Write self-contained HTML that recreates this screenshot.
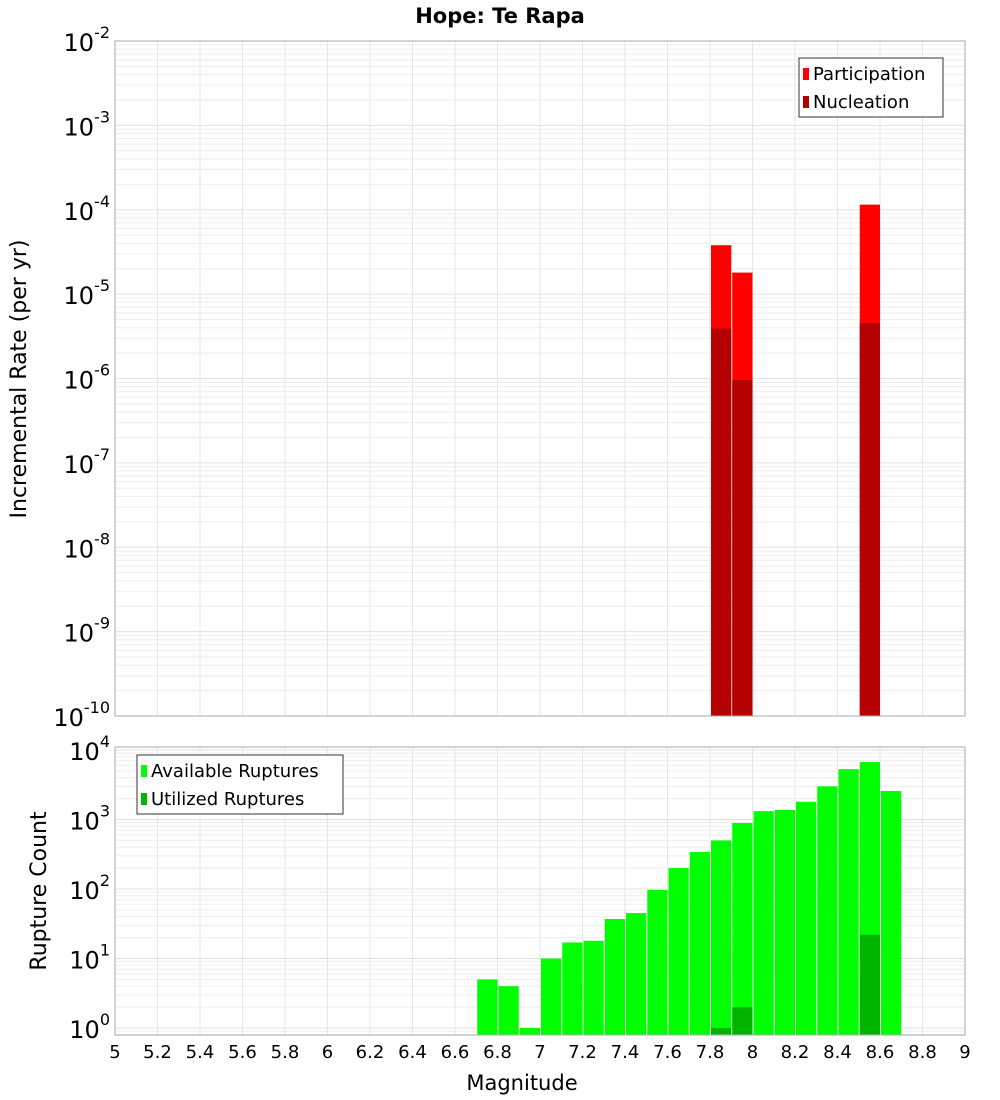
<!DOCTYPE html>
<html><head><meta charset="utf-8"><style>
body{margin:0;background:#fff;}
svg{display:block;font-family:"DejaVu Sans","Liberation Sans",sans-serif;}
</style></head><body>
<svg id="c" width="1000" height="1100" xmlns="http://www.w3.org/2000/svg"></svg>
<script>
const topMags=[7.8,7.9,8.5];
const partRates=[3.8e-5,1.8e-5,1.15e-4];
const nuclRates=[3.9e-6,9.6e-7,4.5e-6];
const botMags=[6.7,6.8,6.9,7.0,7.1,7.2,7.3,7.4,7.5,7.6,7.7,7.8,7.9,8.0,8.1,8.2,8.3,8.4,8.5,8.6];
const availCounts=[5,4,1,10,17,18,37,45,97,200,340,500,890,1320,1370,1800,3000,5300,6700,2570];
const utilMags=[7.8,7.9,8.5];
const utilCounts=[1,2,22];
const xTicks=[5,5.2,5.4,5.6,5.8,6,6.2,6.4,6.6,6.8,7,7.2,7.4,7.6,7.8,8,8.2,8.4,8.6,8.8,9];
const xTickLabels=["5","5.2","5.4","5.6","5.8","6","6.2","6.4","6.6","6.8","7","7.2","7.4","7.6","7.8","8","8.2","8.4","8.6","8.8","9"];
const topExps=[-2,-3,-4,-5,-6,-7,-8,-9,-10];
const botExps=[0,1,2,3,4];

const NS="http://www.w3.org/2000/svg";
const svg=document.getElementById('c');
function mk(tag,attrs,parent){const e=document.createElementNS(NS,tag);for(const k in attrs)e.setAttribute(k,attrs[k]);(parent||svg).appendChild(e);return e;}
const X0=115,X1=965;
const xs=m=>X0+(m-5)/4*(X1-X0);
const T0=41,T1=716;
const yTop=v=>T0+(-2-Math.log10(v))/8*(T1-T0);
const B0=747,B1=1035,BPD=69.5;
const yBot=v=>1028-Math.log10(v)*BPD;

// title
let t=mk('text',{x:500,y:23,'text-anchor':'middle','font-size':21,'font-weight':'bold'});t.textContent='Hope: Te Rapa';



function grid(y0,y1,yf,dmin,dmax){
  const g=mk('g',{});
  for(let d=dmin;d<=dmax;d++)for(let k=1;k<10;k++){const y=yf(k*Math.pow(10,d));if(y<y0||y>y1)continue;
    const l=mk('line',{x1:X0,x2:X1,y1:y,y2:y,stroke:k==1?'#e0e0e0':'#eeeeee','stroke-width':1},g);
    
    }
  xTicks.forEach(m=>{const l=mk('line',{x1:xs(m),x2:xs(m),y1:y0,y2:y1,stroke:'#e6e6e6'},g);
    
    });
}
grid(T0,T1,yTop,-10,-3);
grid(B0,B1,yBot,-1,4);

// top bars
topMags.forEach((m,i)=>{
  const x=xs(m)+1,w=xs(m+0.1)-xs(m)-1;
  let r=mk('rect',{x:x,y:yTop(partRates[i]),width:w,height:T1-yTop(partRates[i]),fill:'#ff0000'});
  
  
  r=mk('rect',{x:x,y:yTop(nuclRates[i]),width:w,height:T1-yTop(nuclRates[i]),fill:'#b40000'});
  
  
});
// bottom bars
botMags.forEach((m,i)=>{
  const x=xs(m)+1,w=xs(m+0.1)-xs(m)-1,y=yBot(availCounts[i]);
  const r=mk('rect',{x:x,y:y,width:w,height:B1-y,fill:'#00ff00'});
  
  
});
utilMags.forEach((m,i)=>{
  const x=xs(m)+1,w=xs(m+0.1)-xs(m)-1,y=yBot(utilCounts[i]);
  const r=mk('rect',{x:x,y:y,width:w,height:B1-y,fill:'#00b400'});
  
  
});
// frames
let f=mk('rect',{x:X0,y:T0,width:X1-X0,height:T1-T0,fill:'none',stroke:'#aaaaaa'});

f=mk('rect',{x:X0,y:B0,width:X1-X0,height:B1-B0,fill:'none',stroke:'#aaaaaa'});


// y tick labels
function ylab(y,e,name){
  const g=mk('text',{x:110,y:y+10,'text-anchor':'end','font-size':24});
  
  
  const a=mk('tspan',{},g);a.textContent='10';
  const b=mk('tspan',{dy:-13,'font-size':16},g);b.textContent=String(e);
  b.setAttribute('dx',0);
}
topExps.forEach(e=>ylab(yTop(Math.pow(10,e)),e,'top-y-tick-label'));
botExps.forEach(e=>ylab(yBot(Math.pow(10,e)),e,'bottom-y-tick-label'));
// x tick labels
xTicks.forEach((m,i)=>{const l=mk('text',{x:xs(m),y:1058,'text-anchor':'middle','font-size':18});l.textContent=xTickLabels[i];
  
  });
// axis titles
t=mk('text',{x:522,y:1090,'text-anchor':'middle','font-size':21});t.textContent='Magnitude';

t=mk('text',{x:0,y:0,'text-anchor':'middle','font-size':22,transform:'translate(26,379) rotate(-90)'});t.textContent='Incremental Rate (per yr)';

t=mk('text',{x:0,y:0,'text-anchor':'middle','font-size':22,transform:'translate(46,891) rotate(-90)'});t.textContent='Rupture Count';


// legends
function legend(x,y,w,items,name){
  const g=mk('g',{});
  mk('rect',{x:x,y:y,width:w,height:59,fill:'#fff',stroke:'#333'},g);
  items.forEach((it,i)=>{
    const sw=mk('rect',{x:x+4,y:y+10+i*28,width:6,height:12,fill:it[1]},g);
    
    const tx=mk('text',{x:x+14,y:y+22+i*28,'font-size':18},g);tx.textContent=it[0];
    
  });
}
legend(799,58,144,[['Participation','#ff0000'],['Nucleation','#b40000']],'top-legend');
legend(137,755,206,[['Available Ruptures','#00ff00'],['Utilized Ruptures','#00b400']],'bottom-legend');
</script>
</body></html>
